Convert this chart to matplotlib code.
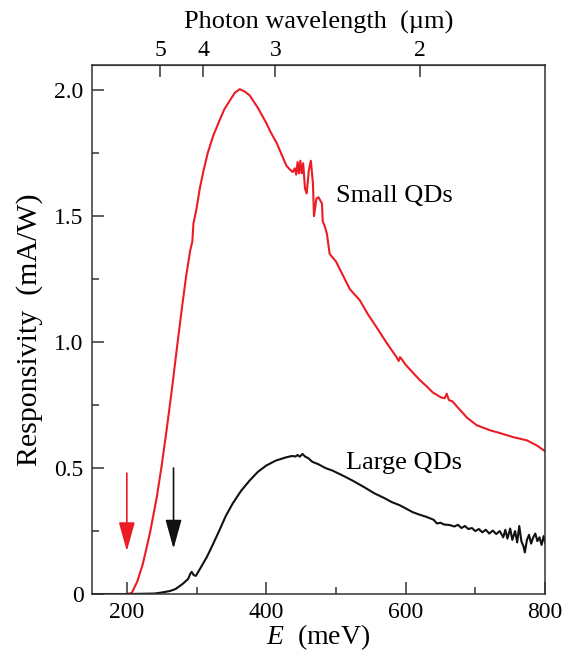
import matplotlib
matplotlib.use("Agg")
import matplotlib.pyplot as plt
import numpy as np

plt.rcParams['font.family'] = ['Liberation Serif', 'DejaVu Serif']
plt.rcParams['mathtext.fontset'] = 'custom'
plt.rcParams['mathtext.rm'] = 'Liberation Serif'
plt.rcParams['mathtext.it'] = 'Liberation Serif:italic'

# Small QDs (red), energy in meV, responsivity in mA/W
e_small = [150, 180, 200, 207, 215, 223, 233, 243, 250, 257, 265, 272, 279, 285,
           291, 294, 295.5, 300, 305, 310, 316, 324, 333, 340, 348, 355, 362, 369,
           376, 382, 388, 394, 400, 407, 415, 422, 429, 434, 438, 441, 443, 445,
           447, 449, 451, 453, 455.6, 458, 461, 464, 467, 468.5, 472, 475, 478,
           480, 481, 484, 487, 491, 500, 510, 520, 534, 546, 558, 572, 582, 587,
           590, 592, 595, 600, 610, 620, 630, 639, 651, 656, 659, 662, 667, 675,
           688, 702, 721, 734, 754, 774, 788, 800]
r_small = [0.0, 0.0, 0.0, 0.004, 0.05, 0.12, 0.24, 0.385, 0.51, 0.65, 0.82, 0.98,
           1.135, 1.26, 1.365, 1.40, 1.47, 1.53, 1.615, 1.68, 1.75, 1.82, 1.88,
           1.925, 1.96, 1.99, 2.004, 1.995, 1.98, 1.955, 1.93, 1.90, 1.87, 1.83,
           1.79, 1.745, 1.70, 1.685, 1.675, 1.69, 1.665, 1.715, 1.67, 1.72, 1.67,
           1.71, 1.61, 1.59, 1.68, 1.72, 1.63, 1.50, 1.57, 1.575, 1.56, 1.55, 1.48,
           1.46, 1.43, 1.35, 1.32, 1.265, 1.21, 1.167, 1.11, 1.06, 1.00, 0.96,
           0.94, 0.925, 0.94, 0.93, 0.91, 0.88, 0.85, 0.825, 0.80, 0.78, 0.777,
           0.795, 0.77, 0.765, 0.74, 0.70, 0.67, 0.65, 0.64, 0.623, 0.61, 0.59,
           0.567]

# Large QDs (black)
e_large = [150, 200, 240, 250, 262, 270, 280, 288, 291, 293, 296, 299, 305, 315,
           324, 333, 342, 352, 364, 376, 388, 400, 414, 429, 437, 442, 445, 448,
           452, 456, 460, 466, 475, 485, 495, 510, 524, 540, 555, 570, 580, 591,
           600, 610, 620, 630, 640, 645, 650, 655, 663, 670, 675, 680, 685, 690,
           695, 700, 705, 710, 715, 720, 725, 730, 735, 740, 743, 746, 750, 753,
           757, 760, 763, 766, 769, 771, 774, 777, 780, 783, 786, 789, 792, 795,
           798, 800]
r_large = [0.0, 0.0, 0.002, 0.006, 0.012, 0.02, 0.04, 0.06, 0.08, 0.088, 0.075,
           0.072, 0.10, 0.148, 0.20, 0.254, 0.31, 0.36, 0.41, 0.45, 0.485, 0.51,
           0.53, 0.543, 0.548, 0.546, 0.552, 0.545, 0.556, 0.545, 0.54, 0.525,
           0.515, 0.50, 0.49, 0.47, 0.45, 0.425, 0.40, 0.38, 0.365, 0.353, 0.34,
           0.325, 0.315, 0.306, 0.295, 0.28, 0.283, 0.276, 0.274, 0.268, 0.275,
           0.262, 0.27, 0.258, 0.262, 0.25, 0.258, 0.245, 0.255, 0.24, 0.252,
           0.238, 0.25, 0.225, 0.255, 0.22, 0.26, 0.215, 0.25, 0.205, 0.27, 0.21,
           0.19, 0.165, 0.215, 0.235, 0.20, 0.225, 0.24, 0.21, 0.225, 0.195, 0.23,
           0.205]

wl_ticks = [5, 4, 3, 2]
red = '#ec1c24'
# onset arrows: (energy, top, tip, colour)
arrows = [(200, 0.48, 0.17, red), (267, 0.50, 0.18, '#111111')]

fs_tick = 17
fs_note = 19
fs_label = 21.5

fig = plt.figure(figsize=(5.66, 6.54), dpi=100)
ax = fig.add_axes([0.1625, 0.0917, 0.8005, 0.8089])

ax.plot(e_small, r_small, color=red, lw=1.5)
ax.plot(e_large, r_large, color='#111111', lw=1.5)

for e, top, tip, c in arrows:
    ax.annotate('', xy=(e, tip), xytext=(e, top),
                arrowprops=dict(arrowstyle='-|>,head_length=0.9,head_width=0.25',
                                color=c, lw=1.2, shrinkA=0, shrinkB=0,
                                mutation_scale=20))

ax.text(500, 1.58, 'Small QDs', fontsize=fs_note, va='center', ha='left')
ax.text(515, 0.52, 'Large QDs', fontsize=fs_note, va='center', ha='left')

ax.set_xlim(150, 800)
ax.set_ylim(0, 2.1)
ax.set_xticks([200, 400, 600, 800])
ax.set_xticks([300, 500, 700], minor=True)
ax.set_yticks([0, 0.5, 1.0, 1.5, 2.0])
ax.set_yticklabels(['0', '0.5', '1.0', '1.5', '2.0'])
ax.set_yticks([0.25, 0.75, 1.25, 1.75], minor=True)
ax.tick_params(which='both', direction='in', top=False, right=False,
               labelsize=fs_tick, color='#333333', width=1.1)
ax.tick_params(which='major', length=8.5, pad=6)
ax.tick_params(which='minor', length=4.7)
for s in ax.spines.values():
    s.set_color('#333333')
    s.set_linewidth(1.1)

ax.set_xlabel(r'$E$  (meV)', fontsize=20, labelpad=-1)
ax.set_ylabel('Responsivity  (mA/W)', fontsize=fs_label, labelpad=8)

hc = 1239.84
sec = ax.secondary_xaxis('top', functions=(lambda x: hc / np.asarray(x, float),
                                           lambda w: hc / np.asarray(w, float)))
sec.set_xticks(wl_ticks)
sec.set_xticklabels([str(w) for w in wl_ticks])
sec.xaxis.set_minor_locator(matplotlib.ticker.NullLocator())
sec.tick_params(direction='in', length=8.5, labelsize=fs_tick, color='#333333',
                width=1.1, pad=3)
sec.set_xlabel('Photon wavelength  (µm)', fontsize=19, labelpad=8)
sec.spines['top'].set_color('#333333')

fig.savefig('out.png', dpi=100)
